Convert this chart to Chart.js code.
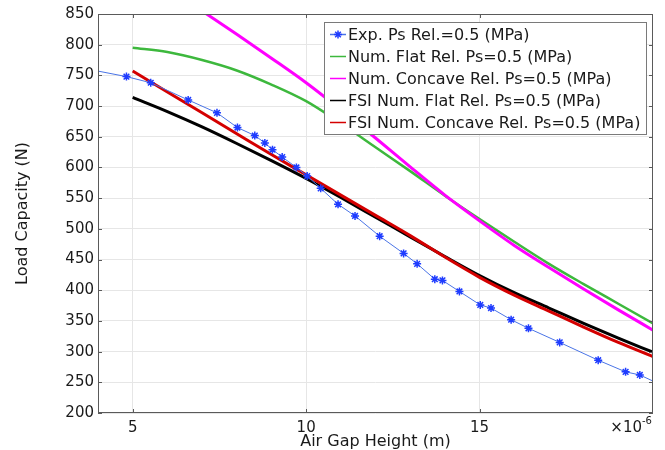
<!DOCTYPE html>
<html>
<head>
<meta charset="utf-8">
<script src="https://cdn.jsdelivr.net/npm/chart.js@4.4.0/dist/chart.umd.min.js"></script>
<style>
	html, body { margin: 0; padding: 0; background: #fff; }
	#wrap { width: 665px; height: 450px; }
</style>
</head>
<body>
<div id="wrap"><canvas id="myChart" width="665" height="450"></canvas></div>
<script>
// Experimental points (air gap in um, load in N)
const expGap = [4.0, 4.82, 5.52, 6.6, 7.43, 8.02, 8.52, 8.81, 9.03, 9.31, 9.72, 10.03, 10.42, 10.92, 11.41, 12.12, 12.81, 13.2, 13.71, 13.93, 14.42, 15.02, 15.33, 15.91, 16.41, 17.31, 18.42, 19.21, 19.62, 20.0];
const expLoad = [757, 748, 738, 710, 689, 665, 652, 640, 629, 617, 600, 586, 566, 540, 521, 488, 460, 443, 418, 416, 398, 376, 371, 352, 338, 315, 286, 267, 262, 252];

// Numerical curves
const numGap = [5, 6, 7, 8, 9, 10, 11, 12, 13, 14, 15, 16, 17, 18, 19, 20];
const numFlat = [795, 788, 775, 758, 735, 708, 672, 633, 594, 554, 516, 479, 443, 410, 378, 346];
const numConcave = [928, 892, 855, 817, 778, 738, 694, 648, 601, 555, 513, 473, 437, 402, 368, 335];
const fsiFlat = [714, 691, 666, 639, 611, 582, 551, 519, 487, 455, 424, 396, 371, 346, 322, 299];
const fsiConcave = [757, 723, 689, 655, 621, 588, 555, 522, 489, 454, 421, 392, 366, 340, 315, 292];

const xTicks = [5, 10, 15];
const yMin = 200, yMax = 850, yStep = 50;

const labels = [
	"Exp. Ps Rel.=0.5 (MPa)",
	"Num. Flat Rel. Ps=0.5 (MPa)",
	"Num. Concave Rel. Ps=0.5 (MPa)",
	"FSI Num. Flat Rel. Ps=0.5 (MPa)",
	"FSI Num. Concave Rel. Ps=0.5 (MPa)",
];

const FONT = "'DejaVu Sans', 'Liberation Sans', sans-serif";

const toPoints = (xs, ys) => xs.map((x, i) => ({ x: x, y: ys[i] }));

function drawStar(ctx, x, y, r) {
	ctx.beginPath();
	ctx.moveTo(x - r, y); ctx.lineTo(x + r, y);
	ctx.moveTo(x, y - r); ctx.lineTo(x, y + r);
	const d = r * 0.707;
	ctx.moveTo(x - d, y - d); ctx.lineTo(x + d, y + d);
	ctx.moveTo(x - d, y + d); ctx.lineTo(x + d, y - d);
	ctx.stroke();
}

// frame, inward ticks, x10^-6 and the boxed legend
const framePlugin = {
	id: "frame",
	afterDraw(chart) {
		const { ctx, chartArea: a } = chart;
		const yScale = chart.scales.y;
		const xScale = chart.scales.x;
		ctx.save();

		ctx.strokeStyle = "#5a5a5a";
		ctx.lineWidth = 1;
		ctx.strokeRect(a.left + 0.5, a.top + 0.5, a.right - a.left - 1, a.bottom - a.top - 1);

		ctx.beginPath();
		yScale.ticks.forEach((t) => {
			const py = Math.round(yScale.getPixelForValue(t.value)) + 0.5;
			ctx.moveTo(a.right - 4, py); ctx.lineTo(a.right, py);
			ctx.moveTo(a.left, py); ctx.lineTo(a.left + 4, py);
		});
		xScale.ticks.forEach((t) => {
			const px = Math.round(xScale.getPixelForValue(t.value)) + 0.5;
			ctx.moveTo(px, a.top); ctx.lineTo(px, a.top + 4);
			ctx.moveTo(px, a.bottom - 4); ctx.lineTo(px, a.bottom);
		});
		ctx.stroke();

		// x10^-6 multiplier
		ctx.fillStyle = "#1a1a1a";
		ctx.textAlign = "right";
		ctx.textBaseline = "alphabetic";
		ctx.font = "15px " + FONT;
		ctx.fillText("\u00d710", 642, 432);
		ctx.textAlign = "left";
		ctx.font = "10px " + FONT;
		ctx.fillText("-6", 642, 424);

		// legend
		const lx = 324, ly = 22, lw = 322, lh = 112;
		ctx.fillStyle = "#fff";
		ctx.fillRect(lx, ly, lw, lh);
		ctx.strokeStyle = "#7a7a7a";
		ctx.strokeRect(lx + 0.5, ly + 0.5, lw, lh);
		ctx.font = "16px " + FONT;
		ctx.textBaseline = "middle";
		chart.data.datasets.forEach((ds, i) => {
			const ry = 34.5 + i * 22;
			ctx.strokeStyle = ds.borderColor;
			ctx.lineWidth = 1.5;
			ctx.beginPath();
			ctx.moveTo(330, ry); ctx.lineTo(346, ry);
			ctx.stroke();
			if (i === 0) {
				ctx.strokeStyle = ds.pointBorderColor;
				drawStar(ctx, 338, ry, 4);
			}
			ctx.fillStyle = "#1a1a1a";
			ctx.fillText(ds.label, 348, ry + 1);
		});
		ctx.restore();
	},
};

const expRadius = expGap.map((x, i) => (i === 0 || i === expGap.length - 1 ? 0 : 4));

const data = {
	datasets: [
		{
			label: labels[0],
			data: toPoints(expGap, expLoad),
			borderColor: "#4a74e6",
			borderWidth: 1,
			pointStyle: "star",
			pointRadius: expRadius,
			pointBorderColor: "#1f3cff",
			pointBorderWidth: 1.5,
			pointBackgroundColor: "#1f3cff",
			tension: 0,
			order: 0,
		},
		{
			label: labels[1],
			data: toPoints(numGap, numFlat),
			borderColor: "#3db83d",
			borderWidth: 2.5,
			pointRadius: 0,
			cubicInterpolationMode: "monotone",
			order: 4,
		},
		{
			label: labels[2],
			data: toPoints(numGap, numConcave),
			borderColor: "#ff00ff",
			borderWidth: 3,
			pointRadius: 0,
			cubicInterpolationMode: "monotone",
			order: 3,
		},
		{
			label: labels[3],
			data: toPoints(numGap, fsiFlat),
			borderColor: "#000000",
			borderWidth: 3,
			pointRadius: 0,
			cubicInterpolationMode: "monotone",
			order: 2,
		},
		{
			label: labels[4],
			data: toPoints(numGap, fsiConcave),
			borderColor: "#d40000",
			borderWidth: 3,
			pointRadius: 0,
			cubicInterpolationMode: "monotone",
			order: 1,
		},
	],
};

const config = {
	type: "line",
	data: data,
	options: {
		responsive: false,
		animation: false,
		layout: { padding: { top: 14, right: 12, left: 0, bottom: 0 } },
		plugins: {
			legend: { display: false },
			tooltip: { enabled: false },
		},
		scales: {
			x: {
				type: "linear",
				min: 4,
				max: 20,
				afterBuildTicks: (scale) => {
					scale.ticks = xTicks.map((v) => ({ value: v }));
				},
				afterFit: (scale) => { scale.height = 37; },
				grid: { color: "#e6e6e6", drawTicks: false },
				border: { display: false },
				ticks: {
					padding: 6,
					color: "#1a1a1a",
					font: { family: FONT, size: 15 },
					maxRotation: 0,
				},
				title: {
					display: true,
					text: "Air Gap Height (m)",
					color: "#1a1a1a",
					font: { family: FONT, size: 16 },
					padding: { top: 0, bottom: -1 },
				},
			},
			y: {
				min: yMin,
				max: yMax,
				afterFit: (scale) => { scale.width = 98; },
				grid: { color: "#e6e6e6", drawTicks: false },
				border: { display: false },
				ticks: {
					stepSize: yStep,
					padding: 4,
					color: "#1a1a1a",
					font: { family: FONT, size: 15 },
				},
				title: {
					display: true,
					text: "Load Capacity (N)",
					color: "#1a1a1a",
					font: { family: FONT, size: 16 },
					padding: { top: 13, bottom: 0 },
				},
			},
		},
	},
	plugins: [framePlugin],
};

var myChart = new Chart(document.getElementById("myChart"), config);
</script>
</body>
</html>
